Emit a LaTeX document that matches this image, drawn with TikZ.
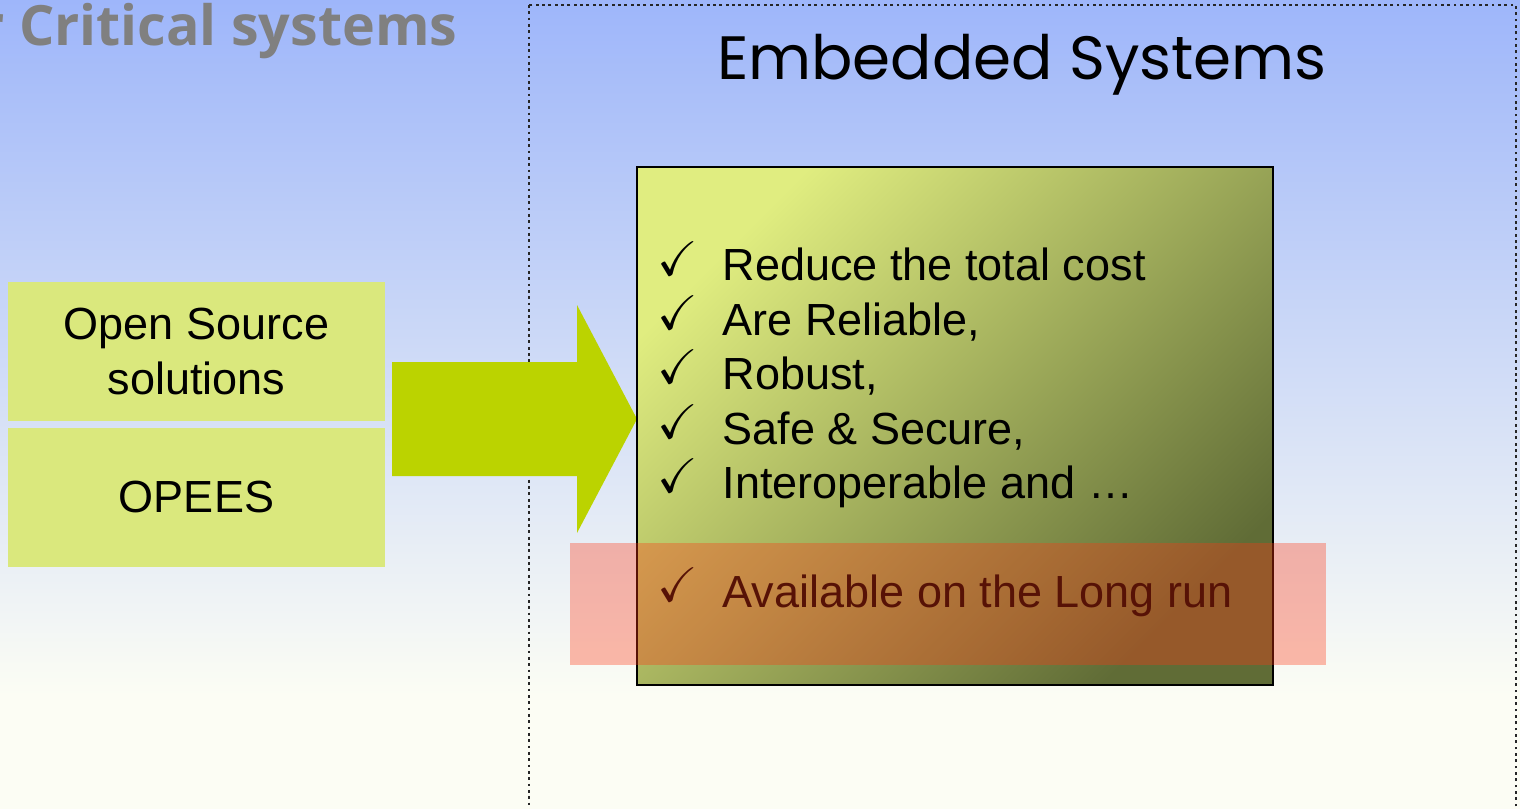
\documentclass[tikz,border=0pt]{standalone}
\usepackage{fontspec}
\usepackage{amssymb}
\setmainfont{Liberation Sans}
\newfontfamily\titlefont{Poppins}
\newfontfamily\headfont{Open Sans}
\usetikzlibrary{positioning}

\definecolor{cream}{RGB}{252,253,244}
\definecolor{skyblue}{RGB}{158,182,250}
\definecolor{boxgreen}{RGB}{218,232,125}
\definecolor{arrowgreen}{RGB}{187,211,0}
\definecolor{oliveup}{RGB}{224,237,128}
\definecolor{olivedown}{RGB}{96,108,54}
\definecolor{overlayred}{RGB}{255,55,20}
\pgfdeclareverticalshading{slide}{100bp}{color(0bp)=(cream); color(25bp)=(cream); color(32bp)=(cream); color(75bp)=(skyblue); color(100bp)=(skyblue)}
\newcommand{\tickmark}{\makebox[0.65cm][l]{\raisebox{1.6pt}{\scalebox{1.08}{$\checkmark$}}}}

\begin{document}
\begin{tikzpicture}[x=0.01cm, y=-0.01cm,
  textsize/.style={font=\fontsize{12.8}{15.4}\selectfont},
  block/.style={textsize, fill=boxgreen, minimum width=3.77cm, minimum height=1.39cm, align=center, inner sep=0pt},
  item/.style={textsize, anchor=base west, inner sep=0pt}]
\useasboundingbox (0,0) rectangle (1520,809);
\begin{scope}
\clip (0,0) rectangle (1520,809);
\shade[shading=slide] (0,0) rectangle (1520,809);
\draw[densely dotted, line width=0.8pt, black!85] (529,5) rectangle (1516,830);

\node[anchor=base east, inner sep=0pt, font=\headfont\bfseries\fontsize{15.8}{19}\selectfont, text=gray] (critical) at (458,45) {r Critical systems};
\node[anchor=base, font=\titlefont\fontsize{17.4}{21}\selectfont] (title) at (1022,80) {Embedded Systems};

\node[block] (open) at (196.5,351.5) {Open Source\\solutions};
\node[block] (opees) at (196.5,497.5) {OPEES};

\fill[arrowgreen] (392,362) -- (577,362) -- (577,305) -- (637,419) -- (577,533) -- (577,476) -- (392,476) -- cycle;

\shade[top color=oliveup, bottom color=olivedown, shading angle=45] (637,167) rectangle (1273,685);
\draw[line width=0.6pt] (637,167) rectangle (1273,685);

\node[item] (cost) at (657,281) {\tickmark Reduce the total cost};
\node[item] (reliable) at (657,335) {\tickmark Are Reliable,};
\node[item] (robust) at (657,389) {\tickmark Robust,};
\node[item] (safe) at (657,444) {\tickmark Safe \& Secure,};
\node[item] (interop) at (657,498) {\tickmark Interoperable and …};
\node[item] (longrun) at (657,607) {\tickmark Available on the Long run};

\fill[overlayred, opacity=0.34] (570,543) rectangle (1326,665);
\end{scope}
\end{tikzpicture}
\end{document}
